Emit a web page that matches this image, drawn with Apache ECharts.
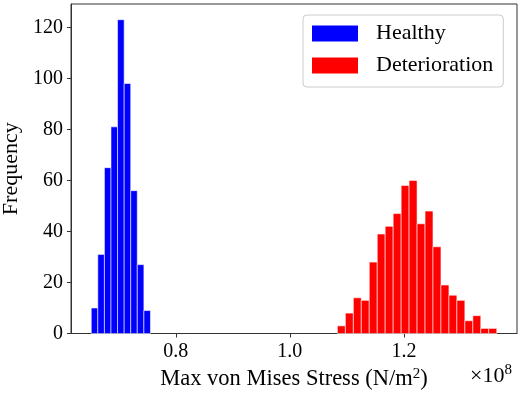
<!DOCTYPE html>
<html>
<head>
<meta charset="utf-8">
<script src="https://cdn.jsdelivr.net/npm/echarts@6/dist/echarts.min.js"></script>
<style>html,body{margin:0;padding:0;background:#fff}#c{width:523px;height:393px}</style>
</head>
<body>
<div id="c"></div>
<script>
// Histogram data (bin edges in N/m^2 ×1e8, counts)
const healthyEdges = [0.6518, 0.6633, 0.6749, 0.6864, 0.6979, 0.7095, 0.7210, 0.7325, 0.7441, 0.7556];
const healthyCounts = [10, 31, 65, 81, 123, 98, 56, 27, 9];
const deteriorationEdges = [1.0833, 1.0973, 1.1113, 1.1252, 1.1392, 1.1532, 1.1671, 1.1811, 1.1951, 1.2090, 1.2230,
  1.2370, 1.2509, 1.2649, 1.2789, 1.2928, 1.3068, 1.3208, 1.3347, 1.3487, 1.3627];
const deteriorationCounts = [3, 8, 14, 13, 28, 39, 42, 47, 58, 60, 43, 48, 34, 19, 15, 13, 5, 7, 2, 2];
const seriesNames = ['Healthy', 'Deterioration'];
const xTickValues = [0.8, 1.0, 1.2];
const xTickLabels = ['0.8', '1.0', '1.2'];
const yTickValues = [0, 20, 40, 60, 80, 100, 120];
const xRange = [0.6163, 1.3982];
const yRange = [0, 129.15];

function toRows(edges, counts) {
  return counts.map((c, i) => [edges[i], edges[i + 1], c]);
}

const FONT = 'Liberation Serif';
const chart = echarts.init(document.getElementById('c'), null, {renderer: 'canvas'});

function renderBin(params, api) {
  const p0 = api.coord([api.value(0), api.value(2)]);
  const p1 = api.coord([api.value(1), 0]);
  return {
    type: 'rect',
    shape: {x: p0[0], y: p0[1], width: p1[0] - p0[0], height: p1[1] - p0[1]},
    style: {fill: api.visual('color'), stroke: '#ffffff', lineWidth: 0.8, strokeOpacity: 0.7}
  };
}

chart.setOption({
  animation: false,
  backgroundColor: '#fff',
  grid: {left: 71, right: 6, top: 4, bottom: 59.5, show: true, borderColor: '#333', borderWidth: 1,
    backgroundColor: 'transparent', containLabel: false, outerBoundsMode: 'none'},
  legend: {
    data: seriesNames,
    orient: 'vertical',
    left: 303, top: 15,
    icon: 'rect',
    itemWidth: 46, itemHeight: 16, itemGap: 10,
    padding: [7.5, 10, 10.5, 9],
    backgroundColor: '#fff',
    borderColor: '#cccccc', borderWidth: 1, borderRadius: 4,
    textStyle: {fontFamily: FONT, fontSize: 22, color: '#000', padding: [0, 0, 0, 13]}
  },
  xAxis: {
    type: 'value', min: xRange[0], max: xRange[1],
    name: 'Max von Mises Stress (N/m{sup|2})',
    nameLocation: 'middle', nameGap: 30,
    nameTextStyle: {fontFamily: FONT, fontSize: 22.5, color: '#000',
      rich: {sup: {fontFamily: FONT, fontSize: 15, verticalAlign: 'top', padding: [0, 0, 10, 0], color: '#000'}}},
    axisLine: {lineStyle: {color: '#333', width: 1}},
    axisTick: {show: true, length: 4, inside: false, lineStyle: {color: '#333'}, customValues: xTickValues},
    axisLabel: {fontFamily: FONT, fontSize: 20, color: '#000', margin: 8, customValues: xTickValues,
      formatter: v => { const i = xTickValues.findIndex(t => Math.abs(t - v) < 1e-9); return i >= 0 ? xTickLabels[i] : ''; }},
    splitLine: {show: false}
  },
  yAxis: {
    type: 'value', min: yRange[0], max: yRange[1],
    name: 'Frequency', nameLocation: 'middle', nameGap: 46, nameRotate: 90,
    nameTextStyle: {fontFamily: FONT, fontSize: 22, color: '#000'},
    axisLine: {show: true, lineStyle: {color: '#333', width: 1}},
    axisTick: {show: true, length: 4, lineStyle: {color: '#333'}, customValues: yTickValues},
    axisLabel: {fontFamily: FONT, fontSize: 20, color: '#000', margin: 8, customValues: yTickValues},
    splitLine: {show: false}
  },
  graphic: [{
    type: 'text', right: 11, top: 363,
    style: {text: '×10{sup|8}', fontFamily: FONT, fontSize: 22, fill: '#000',
      rich: {sup: {fontFamily: FONT, fontSize: 15, verticalAlign: 'top', padding: [0, 0, 12, 0]}}}
  }],
  series: [
    {name: seriesNames[0], type: 'custom', renderItem: renderBin, itemStyle: {color: '#0000ff'},
      encode: {x: [0, 1], y: 2}, data: toRows(healthyEdges, healthyCounts)},
    {name: seriesNames[1], type: 'custom', renderItem: renderBin, itemStyle: {color: '#ff0000'},
      encode: {x: [0, 1], y: 2}, data: toRows(deteriorationEdges, deteriorationCounts)}
  ]
});
</script>
</body>
</html>
